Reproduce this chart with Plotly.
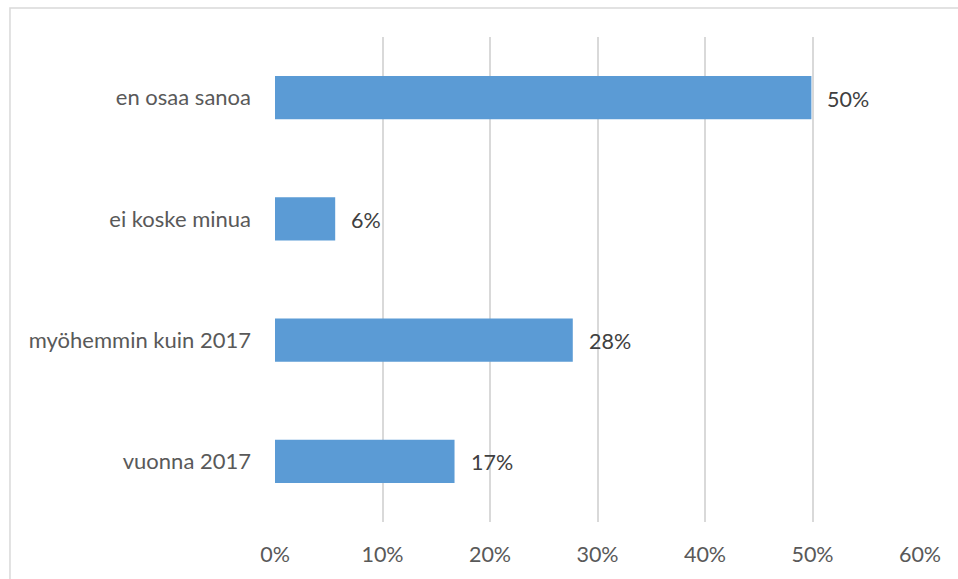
import plotly.graph_objects as go

categories = ["vuonna 2017", "myöhemmin kuin 2017", "ei koske minua", "en osaa sanoa"]
values = [0.167, 0.277, 0.056, 0.499]
tick_vals = [0, 0.1, 0.2, 0.3, 0.4, 0.5, 0.6]
tick_text = ["0%", "10%", "20%", "30%", "40%", "50%", "60%"]

FONT = "Lato, Carlito, 'Open Sans', sans-serif"

fig = go.Figure()
fig.add_trace(go.Bar(
    y=categories, x=values, orientation="h",
    marker=dict(color="#5B9BD5", line=dict(width=0)),
    width=0.355,
    hoverinfo="skip",
))

for c, v in zip(categories, values):
    fig.add_annotation(
        x=v, y=c, xref="x", yref="y",
        text=f"{round(v * 100):d}%",
        showarrow=False, xanchor="left", yanchor="middle",
        xshift=14, yshift=-1,
        font=dict(family=FONT, size=21.5, color="#404040"),
    )

# chart border
fig.add_shape(type="rect", xref="paper", yref="paper",
              x0=-0.4109, x1=1.07, y0=-0.13, y1=1.0598,
              line=dict(color="#D9D9D9", width=1.5), fillcolor="rgba(0,0,0,0)",
              layer="below")

fig.update_layout(
    width=958, height=579,
    margin=dict(l=275, r=38, t=37, b=57),
    paper_bgcolor="white", plot_bgcolor="white",
    showlegend=False,
    font=dict(family=FONT, size=21.5, color="#595959"),
    xaxis=dict(
        range=[0, 0.6], tickvals=tick_vals, ticktext=tick_text,
        showgrid=True, gridcolor="#D9D9D9", gridwidth=1.5,
        zeroline=False, showline=False, ticks="",
        ticklabelstandoff=17,
        tickfont=dict(family=FONT, size=21.5, color="#595959"),
        fixedrange=True,
    ),
    yaxis=dict(
        showgrid=False, zeroline=False, showline=False, ticks="",
        ticklabelstandoff=23,
        tickfont=dict(family=FONT, size=22, color="#595959"),
        fixedrange=True,
    ),
)

fig.write_html("out.html", config={"displayModeBar": False})

with open("out.html", "r", encoding="utf-8") as f:
    html = f.read()
html = html.replace("<body>", "<body style=\"margin:0;overflow:hidden\">", 1)
with open("out.html", "w", encoding="utf-8") as f:
    f.write(html)
